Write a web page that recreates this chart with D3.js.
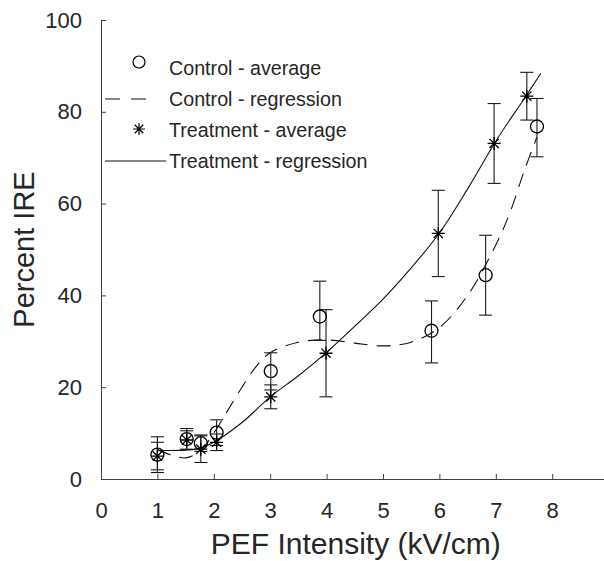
<!DOCTYPE html>
<html>
<head>
<meta charset="utf-8">
<script src="https://cdn.jsdelivr.net/npm/d3@7"></script>
<style>
    body { margin: 0; background: #fff; }
    svg { display: block; font-family: "Liberation Sans", Arial, sans-serif; }
</style>
</head>
<body>
<svg id="chart"></svg>
<script>
// averages with error bars
const controlX = [1, 1.52, 1.77, 2.05, 3.01, 3.88, 5.86, 6.82, 7.73];
const controlY = [5.3, 8.7, 7.8, 10.1, 23.5, 35.4, 32.3, 44.4, 76.8];
const controlLo = [3.9, 2.3, 1.8, 2.8, 4.1, 5.2, 7.0, 8.7, 6.6];
const controlHi = [3.9, 2.3, 1.8, 2.8, 4.0, 7.7, 6.5, 8.7, 6.1];

const treatX = [1, 1.52, 1.77, 2.05, 3.01, 3.99, 5.98, 6.97, 7.55];
const treatY = [5.0, 8.5, 6.5, 8.0, 17.9, 27.4, 53.5, 73.1, 83.4];
const treatErr = [3.0, 2.0, 2.9, 1.8, 2.6, 9.5, 9.4, 8.7, 5.2];

// regression curves
const controlRegX = [1, 1.25, 1.5, 1.75, 2, 2.25, 2.5, 2.75, 3, 3.5, 4, 4.5, 5, 5.5, 6, 6.5, 7, 7.25, 7.5, 7.73];
const controlRegY = [6.4, 5.2, 4.6, 6.0, 10.0, 15.0, 20.0, 24.5, 27.5, 29.8, 30.3, 29.6, 29.0, 29.8, 33.0, 40.0, 51.0, 58.0, 67.0, 74.5];
const treatRegX = [1, 1.5, 1.75, 2, 2.5, 3, 3.5, 4, 4.5, 5, 5.5, 6, 6.5, 7, 7.5, 7.8];
const treatRegY = [6.2, 6.3, 6.7, 8.0, 12.3, 17.9, 22.5, 27.6, 33.3, 39.2, 46.0, 53.6, 63.2, 73.6, 82.8, 88.4];

const xTicks = [0, 1, 2, 3, 4, 5, 6, 7, 8];
const yTicks = [0, 20, 40, 60, 80, 100];
const legendItems = ["Control - average", "Control - regression", "Treatment - average", "Treatment - regression"];

const width = 604, height = 561;
const margin = { top: 20, left: 101, bottom: 82 };
const axisColor = "#404040";
const textColor = "#262626";

const svg = d3.select("#chart").attr("width", width).attr("height", height);

const xScale = d3.scaleLinear().domain([0, 9]).range([margin.left, margin.left + 9 * 56.4]);
const yScale = d3.scaleLinear().domain([0, 100]).range([height - margin.bottom, margin.top]);

// Axes (ticks point inward, like the original)
const xAxis = d3.axisBottom(xScale).tickValues(xTicks).tickSizeInner(-5).tickSizeOuter(0).tickPadding(23);
const yAxis = d3.axisLeft(yScale).tickValues(yTicks).tickSizeInner(-5).tickSizeOuter(0).tickPadding(19);

const xAxisG = svg.append("g")
    .attr("transform", `translate(0,${yScale(0)})`)
    .call(xAxis);
const yAxisG = svg.append("g")
    .attr("transform", `translate(${xScale(0)},0)`)
    .call(yAxis);

[xAxisG, yAxisG].forEach(g => {
    g.select(".domain").attr("stroke", axisColor);
    g.selectAll(".tick line").attr("stroke", axisColor);
    g.selectAll(".tick text").attr("fill", textColor).attr("font-size", "22px")
        .attr("font-family", "Liberation Sans, Arial, sans-serif");
});

// Axis titles
svg.append("text")
    .attr("x", xScale(4.5) + 1)
    .attr("y", 554)
    .attr("text-anchor", "middle")
    .attr("font-size", "30px")
    .attr("fill", textColor)
    .text("PEF Intensity (kV/cm)");

svg.append("text")
    .attr("transform", `translate(34,${yScale(50)}) rotate(-90)`)
    .attr("text-anchor", "middle")
    .attr("font-size", "29px")
    .attr("fill", textColor)
    .text("Percent IRE");

const plot = svg.append("g");

// Regression lines
const line = d3.line()
    .x(d => xScale(d[0]))
    .y(d => yScale(d[1]))
    .curve(d3.curveCatmullRom);

plot.append("path")
    .datum(controlRegX.map((x, i) => [x, controlRegY[i]]))
    .attr("d", line)
    .attr("fill", "none")
    .attr("stroke", "#111")
    .attr("stroke-width", 1.1)
    .attr("stroke-dasharray", "14,9");

plot.append("path")
    .datum(treatRegX.map((x, i) => [x, treatRegY[i]]))
    .attr("d", line)
    .attr("fill", "none")
    .attr("stroke", "#111")
    .attr("stroke-width", 1.1);

// Error bars
const controlData = controlX.map((x, i) => ({ x, y: controlY[i], lo: controlY[i] - controlLo[i], hi: controlY[i] + controlHi[i] }));
const treatData = treatX.map((x, i) => ({ x, y: treatY[i], lo: treatY[i] - treatErr[i], hi: treatY[i] + treatErr[i] }));

function drawErrorBars(data, cls) {
    const g = plot.selectAll(`.${cls}`)
        .data(data)
        .join("g")
        .attr("class", cls)
        .attr("stroke", "#1a1a1a")
        .attr("stroke-width", 1.1);
    g.append("line")
        .attr("x1", d => xScale(d.x)).attr("x2", d => xScale(d.x))
        .attr("y1", d => yScale(d.lo)).attr("y2", d => yScale(d.hi));
    g.append("line")
        .attr("x1", d => xScale(d.x) - 6.5).attr("x2", d => xScale(d.x) + 6.5)
        .attr("y1", d => yScale(d.lo)).attr("y2", d => yScale(d.lo));
    g.append("line")
        .attr("x1", d => xScale(d.x) - 6.5).attr("x2", d => xScale(d.x) + 6.5)
        .attr("y1", d => yScale(d.hi)).attr("y2", d => yScale(d.hi));
}
drawErrorBars(controlData, "err-control");
drawErrorBars(treatData, "err-treat");

// Markers
const starPath = (r) => {
    const d = r * Math.SQRT1_2;
    return `M${-r},0L${r},0M0,${-r}L0,${r}M${-d},${-d}L${d},${d}M${-d},${d}L${d},${-d}`;
};

plot.selectAll(".ctrl-pt")
    .data(controlData)
    .join("circle")
    .attr("class", "ctrl-pt")
    .attr("cx", d => xScale(d.x))
    .attr("cy", d => yScale(d.y))
    .attr("r", 6.5)
    .attr("fill", "none")
    .attr("stroke", "#000")
    .attr("stroke-width", 1.3);

plot.selectAll(".treat-pt")
    .data(treatData)
    .join("path")
    .attr("class", "treat-pt")
    .attr("transform", d => `translate(${xScale(d.x)},${yScale(d.y)})`)
    .attr("d", starPath(6.5))
    .attr("fill", "none")
    .attr("stroke", "#000")
    .attr("stroke-width", 1.3);

// Legend
const legend = svg.append("g").attr("class", "legend");
const rowY = [68, 99, 130, 161];

legend.selectAll("text")
    .data(legendItems)
    .join("text")
    .attr("x", 169)
    .attr("y", (d, i) => rowY[i] + 7)
    .attr("font-size", "19.7px")
    .attr("fill", textColor)
    .text(d => d);

legend.append("circle")
    .attr("cx", 139).attr("cy", rowY[0] - 6).attr("r", 6)
    .attr("fill", "none").attr("stroke", "#000").attr("stroke-width", 1.2);

legend.append("line")
    .attr("x1", 105).attr("x2", 147).attr("y1", rowY[1]).attr("y2", rowY[1])
    .attr("stroke", "#111").attr("stroke-width", 1.1).attr("stroke-dasharray", "15,11");

legend.append("path")
    .attr("transform", `translate(139,${rowY[2] - 1})`)
    .attr("d", starPath(6))
    .attr("fill", "none").attr("stroke", "#000").attr("stroke-width", 1.2);

legend.append("line")
    .attr("x1", 105).attr("x2", 166).attr("y1", rowY[3]).attr("y2", rowY[3])
    .attr("stroke", "#111").attr("stroke-width", 1.1);
</script>
</body>
</html>
